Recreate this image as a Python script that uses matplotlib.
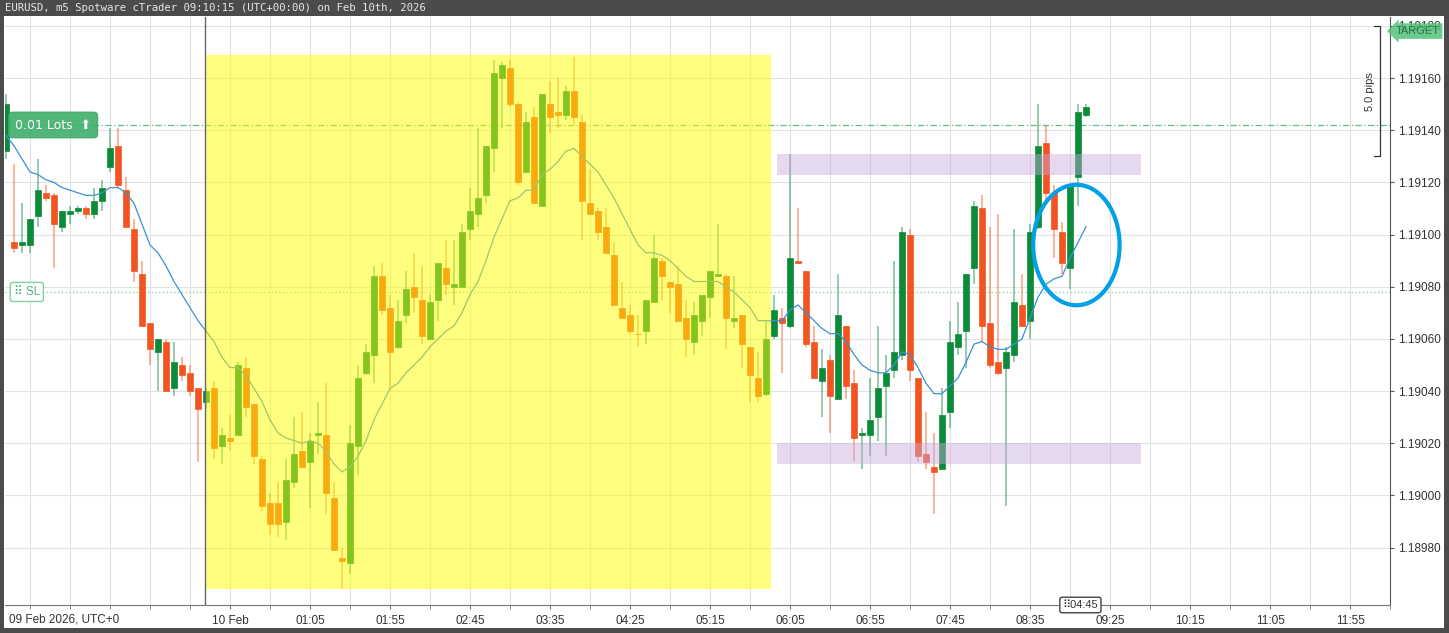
import numpy as np
import pandas as pd
import matplotlib
matplotlib.use("Agg")
import matplotlib.pyplot as plt
from matplotlib.patches import Rectangle, Ellipse
from matplotlib.ticker import FormatStrFormatter

# EURUSD m5 candles, 09 Feb 21:55 -> 10 Feb 09:10 (UTC)
bar_times = pd.date_range("2026-02-09 21:55", "2026-02-10 09:10", freq="5min")

opens = [
    1.19132, 1.19097, 1.19096, 1.19096, 1.19107, 1.19116, 1.19115, 1.19103, 1.19108, 1.19109,
    1.19110, 1.19108, 1.19113, 1.19126, 1.19134, 1.19117, 1.19102, 1.19085, 1.19066, 1.19055,
    1.19059, 1.19041, 1.19050, 1.19047, 1.19041, 1.19036, 1.19041, 1.19019, 1.19022, 1.19023,
    1.19049, 1.19035, 1.19014, 1.18997, 1.18997, 1.18990, 1.19005, 1.19017, 1.19013, 1.19023,
    1.19023, 1.18999, 1.18976, 1.18974, 1.19019, 1.19047, 1.19054, 1.19084, 1.19072, 1.19057,
    1.19069, 1.19080, 1.19075, 1.19060, 1.19075, 1.19087, 1.19080, 1.19080, 1.19102, 1.19108,
    1.19115, 1.19133, 1.19160, 1.19164, 1.19150, 1.19124, 1.19145, 1.19111, 1.19150, 1.19147,
    1.19146, 1.19155, 1.19143, 1.19112, 1.19109, 1.19103, 1.19092, 1.19072, 1.19069, 1.19062,
    1.19063, 1.19074, 1.19090, 1.19082, 1.19081, 1.19068, 1.19059, 1.19067, 1.19076, 1.19084,
    1.19084, 1.19067, 1.19069, 1.19057, 1.19045, 1.19039, 1.19061, 1.19068, 1.19065, 1.19090,
    1.19086, 1.19059, 1.19044, 1.19052, 1.19037, 1.19065, 1.19043, 1.19023, 1.19023, 1.19030,
    1.19042, 1.19048, 1.19054, 1.19100, 1.19045, 1.19016, 1.19011, 1.19010, 1.19032, 1.19057,
    1.19063, 1.19087, 1.19110, 1.19066, 1.19051, 1.19049, 1.19054, 1.19073, 1.19067, 1.19103,
    1.19135, 1.19116, 1.19101, 1.19087, 1.19122, 1.19146,
]
highs = [
    1.19154, 1.19127, 1.19112, 1.19106, 1.19129, 1.19119, 1.19116, 1.19109, 1.19111, 1.19111,
    1.19111, 1.19118, 1.19121, 1.19141, 1.19141, 1.19122, 1.19106, 1.19090, 1.19066, 1.19060,
    1.19060, 1.19059, 1.19053, 1.19050, 1.19041, 1.19041, 1.19044, 1.19026, 1.19031, 1.19051,
    1.19053, 1.19035, 1.19015, 1.19001, 1.19005, 1.19014, 1.19030, 1.19032, 1.19024, 1.19036,
    1.19043, 1.19005, 1.18980, 1.19027, 1.19050, 1.19058, 1.19088, 1.19089, 1.19077, 1.19075,
    1.19086, 1.19093, 1.19088, 1.19077, 1.19089, 1.19098, 1.19098, 1.19104, 1.19118, 1.19141,
    1.19134, 1.19167, 1.19166, 1.19167, 1.19151, 1.19147, 1.19149, 1.19154, 1.19159, 1.19160,
    1.19157, 1.19168, 1.19146, 1.19125, 1.19110, 1.19110, 1.19097, 1.19082, 1.19073, 1.19069,
    1.19075, 1.19100, 1.19091, 1.19082, 1.19088, 1.19075, 1.19074, 1.19077, 1.19086, 1.19104,
    1.19085, 1.19084, 1.19069, 1.19057, 1.19055, 1.19067, 1.19077, 1.19072, 1.19131, 1.19110,
    1.19086, 1.19065, 1.19056, 1.19054, 1.19085, 1.19065, 1.19048, 1.19026, 1.19045, 1.19065,
    1.19054, 1.19090, 1.19103, 1.19102, 1.19045, 1.19032, 1.19024, 1.19041, 1.19067, 1.19074,
    1.19085, 1.19113, 1.19115, 1.19103, 1.19108, 1.19057, 1.19102, 1.19085, 1.19104, 1.19150,
    1.19142, 1.19119, 1.19105, 1.19119, 1.19150, 1.19150,
]
lows = [
    1.19129, 1.19093, 1.19093, 1.19093, 1.19103, 1.19113, 1.19087, 1.19101, 1.19104, 1.19108,
    1.19106, 1.19106, 1.19109, 1.19124, 1.19118, 1.19103, 1.19082, 1.19065, 1.19050, 1.19040,
    1.19040, 1.19038, 1.19044, 1.19038, 1.19013, 1.19033, 1.19014, 1.19012, 1.19017, 1.19023,
    1.19030, 1.19012, 1.18994, 1.18985, 1.18984, 1.18983, 1.19003, 1.19010, 1.18995, 1.19016,
    1.18993, 1.18979, 1.18964, 1.18970, 1.19008, 1.19046, 1.19043, 1.19069, 1.19040, 1.19056,
    1.19066, 1.19070, 1.19058, 1.19060, 1.19067, 1.19077, 1.19073, 1.19080, 1.19098, 1.19103,
    1.19112, 1.19124, 1.19141, 1.19149, 1.19119, 1.19124, 1.19112, 1.19111, 1.19139, 1.19141,
    1.19144, 1.19142, 1.19098, 1.19108, 1.19098, 1.19093, 1.19073, 1.19068, 1.19062, 1.19057,
    1.19058, 1.19074, 1.19075, 1.19070, 1.19067, 1.19053, 1.19054, 1.19061, 1.19068, 1.19084,
    1.19056, 1.19064, 1.19049, 1.19036, 1.19036, 1.19038, 1.19060, 1.19047, 1.19064, 1.19089,
    1.19057, 1.19045, 1.19030, 1.19024, 1.19037, 1.19037, 1.19013, 1.19010, 1.19015, 1.19021,
    1.19015, 1.19045, 1.19052, 1.19044, 1.19013, 1.19010, 1.18993, 1.19010, 1.19026, 1.19054,
    1.19049, 1.19081, 1.19059, 1.19049, 1.19046, 1.18996, 1.19051, 1.19065, 1.19060, 1.19102,
    1.19112, 1.19091, 1.19085, 1.19079, 1.19111, 1.19145,
]
closes = [
    1.19150, 1.19095, 1.19097, 1.19106, 1.19117, 1.19114, 1.19104, 1.19109, 1.19109, 1.19110,
    1.19108, 1.19113, 1.19118, 1.19133, 1.19119, 1.19103, 1.19086, 1.19065, 1.19056, 1.19060,
    1.19040, 1.19051, 1.19046, 1.19040, 1.19033, 1.19040, 1.19018, 1.19023, 1.19021, 1.19050,
    1.19034, 1.19015, 1.18996, 1.18989, 1.18989, 1.19006, 1.19016, 1.19011, 1.19021, 1.19024,
    1.19001, 1.18979, 1.18975, 1.19020, 1.19045, 1.19055, 1.19084, 1.19071, 1.19055, 1.19067,
    1.19079, 1.19076, 1.19061, 1.19074, 1.19089, 1.19081, 1.19081, 1.19101, 1.19109, 1.19114,
    1.19134, 1.19162, 1.19165, 1.19150, 1.19120, 1.19143, 1.19112, 1.19154, 1.19145, 1.19146,
    1.19155, 1.19145, 1.19113, 1.19108, 1.19101, 1.19093, 1.19073, 1.19068, 1.19063, 1.19062,
    1.19075, 1.19091, 1.19084, 1.19080, 1.19067, 1.19060, 1.19069, 1.19077, 1.19086, 1.19085,
    1.19068, 1.19068, 1.19058, 1.19046, 1.19038, 1.19060, 1.19071, 1.19066, 1.19091, 1.19089,
    1.19058, 1.19045, 1.19049, 1.19038, 1.19069, 1.19042, 1.19022, 1.19024, 1.19029, 1.19041,
    1.19047, 1.19055, 1.19101, 1.19048, 1.19015, 1.19013, 1.19009, 1.19031, 1.19059, 1.19062,
    1.19085, 1.19111, 1.19065, 1.19050, 1.19047, 1.19055, 1.19074, 1.19065, 1.19101, 1.19134,
    1.19116, 1.19102, 1.19089, 1.19119, 1.19147, 1.19149,
]
moving_avg = [
    1.19138, 1.19134, 1.19129, 1.19124, 1.19123, 1.19121, 1.19120, 1.19118, 1.19117, 1.19116,
    1.19115, 1.19115, 1.19116, 1.19118, 1.19118, 1.19116, 1.19112, 1.19104, 1.19096, 1.19093,
    1.19088, 1.19082, 1.19077, 1.19072, 1.19067, 1.19063, 1.19059, 1.19053, 1.19049, 1.19049,
    1.19046, 1.19041, 1.19036, 1.19029, 1.19024, 1.19022, 1.19021, 1.19020, 1.19021, 1.19020,
    1.19017, 1.19012, 1.19009, 1.19011, 1.19015, 1.19021, 1.19029, 1.19035, 1.19041, 1.19043,
    1.19047, 1.19050, 1.19053, 1.19057, 1.19060, 1.19063, 1.19065, 1.19070, 1.19077, 1.19082,
    1.19090, 1.19099, 1.19106, 1.19113, 1.19114, 1.19117, 1.19117, 1.19123, 1.19125, 1.19128,
    1.19132, 1.19133, 1.19130, 1.19127, 1.19124, 1.19119, 1.19114, 1.19108, 1.19102, 1.19096,
    1.19093, 1.19093, 1.19092, 1.19090, 1.19087, 1.19084, 1.19082, 1.19082, 1.19082, 1.19082,
    1.19080, 1.19078, 1.19075, 1.19072, 1.19067, 1.19067, 1.19067, 1.19067, 1.19071, 1.19073,
    1.19070, 1.19067, 1.19064, 1.19062, 1.19062, 1.19059, 1.19054, 1.19050, 1.19048, 1.19047,
    1.19047, 1.19050, 1.19055, 1.19054, 1.19049, 1.19043, 1.19039, 1.19039, 1.19042, 1.19045,
    1.19051, 1.19058, 1.19059, 1.19057, 1.19056, 1.19056, 1.19058, 1.19060, 1.19068, 1.19076,
    1.19081, 1.19083, 1.19084, 1.19091, 1.19097, 1.19103,
]

price_ticks = [1.18980, 1.19000, 1.19020, 1.19040, 1.19060, 1.19080,
               1.19100, 1.19120, 1.19140, 1.19160, 1.19180]
time_labels = ["10 Feb", "01:05", "01:55", "02:45", "03:35", "04:25", "05:15",
               "06:05", "06:55", "07:45", "08:35", "09:25", "10:15", "11:05", "11:55"]

entry_price = 1.19142
sl_price = 1.19078
target_price = 1.19180
pips_low = 1.19130
yellow_zone = ("2026-02-09 23:59:30", "2026-02-10 05:53", 1.18964, 1.19169)
supply_zone = ("2026-02-10 05:57", "2026-02-10 09:44:30", 1.19123, 1.19131)
demand_zone = ("2026-02-10 05:57", "2026-02-10 09:44:30", 1.19012, 1.19020)

GREEN = "#0b8a3a"
RED = "#f25522"
W, H = 1449, 633

day0 = pd.Timestamp("2026-02-10")
step = pd.Timedelta("5min")


def bx(t):
    return (pd.Timestamp(t) - day0) / step


def main():
    fig = plt.figure(figsize=(W / 100, H / 100), dpi=100, facecolor="#4b4b4b")
    fig.patches.append(Rectangle((4 / W, 5 / H), 1440 / W, 612 / H,
                                 transform=fig.transFigure, facecolor="white",
                                 edgecolor="none", zorder=-1))
    fig.text(5 / W, 1 - 8 / H,
             "EURUSD, m5 Spotware cTrader 09:10:15 (UTC+00:00) on Feb 10th, 2026",
             family="DejaVu Sans Mono", size=7.7, color="#e8e8e8", va="center")

    ax = fig.add_axes([5 / W, 28 / H, 1385 / W, 588 / H])
    x = ((bar_times - day0) / step).to_numpy(dtype=float)
    o, h, l, c = (np.array(v) for v in (opens, highs, lows, closes))
    col = np.where(c > o, GREEN, RED)

    ax.vlines(x, l, h, colors=col, lw=1.1, alpha=0.55, zorder=2)
    ax.bar(x, c - o, bottom=o, width=0.64, color=col, edgecolor=col,
           linewidth=0.5, zorder=3)
    ax.plot(x, moving_avg, color="#3d8fd6", lw=0.9, zorder=4)

    ax.axhline(entry_price, color="#5cbf87", lw=0.9, ls=(0, (5, 2, 1, 2)), zorder=1)
    ax.axhline(sl_price, color="#7dcf9c", lw=0.9, ls=(0, (1, 2)), zorder=1)

    t0, t1, p0, p1 = yellow_zone
    ax.add_patch(Rectangle((bx(t0), p0), bx(t1) - bx(t0), p1 - p0,
                           facecolor="#ffff00", alpha=0.5, lw=0, zorder=5))
    for t0, t1, p0, p1 in (supply_zone, demand_zone):
        ax.add_patch(Rectangle((bx(t0), p0), bx(t1) - bx(t0), p1 - p0,
                               facecolor="#c9a9dd", alpha=0.45, lw=0, zorder=5))
    ax.axvline(bx(yellow_zone[0]), color="#666666", lw=1, zorder=6)

    ax.add_patch(Ellipse((bx("2026-02-10 09:04"), 1.19096), 10.8, 0.000462,
                         fill=False, ec="#00a0e6", lw=3, zorder=7))

    # trade labels
    ax.text(-19.1, entry_price, "0.01 Lots  \u2b06", color="white", size=9,
            family="DejaVu Sans", ha="center", va="center", zorder=8,
            bbox=dict(boxstyle="round,pad=0.5,rounding_size=0.3",
                      fc="#3fae6b", ec="#3fae6b", alpha=0.9))
    ax.text(-22.4, sl_price, "\u283f SL", color="#4cb877", size=8.5,
            ha="center", va="center", zorder=8,
            bbox=dict(boxstyle="round,pad=0.3,rounding_size=0.2",
                      fc="white", ec="#7fd1a0"))
    ax.text(148.7, 1.19178, "TARGET", color="#2f6e45", size=8, ha="left",
            va="center", clip_on=False, zorder=9,
            bbox=dict(boxstyle="larrow,pad=0.25", fc="#52c27a", ec="none", alpha=0.85))
    ax.plot([146.0, 146.75, 146.75, 146.0],
            [target_price, target_price, pips_low, pips_low],
            color="#333333", lw=0.9, clip_on=False, zorder=8)
    ax.text(145.5, 1.19155, "5.0 pips", rotation=90, ha="center", va="center",
            size=8, color="#333333", zorder=8)

    ax.set_xlim(-25.125, 148.0)
    ax.set_ylim(1.18958, 1.191834)

    ax.text(109.3, 1.18958, "\u283f04:45", ha="center", va="center", size=8,
            color="#333333", clip_on=False, zorder=10,
            bbox=dict(boxstyle="round,pad=0.25,rounding_size=0.2", fc="white", ec="#444444"))

    # axes
    for s in ("left", "top"):
        ax.spines[s].set_visible(False)
    ax.spines["right"].set_color("#555555")
    ax.spines["bottom"].set_color("#777777")

    major = pd.date_range("2026-02-10 00:15", periods=len(time_labels), freq="50min")
    minor = pd.date_range("2026-02-09 22:10", "2026-02-10 12:20", freq="25min")
    ax.set_xticks([bx(t) for t in major])
    ax.set_xticklabels(time_labels)
    ax.set_xticks([bx(t) for t in minor], minor=True)
    ax.set_yticks(price_ticks)
    ax.yaxis.set_major_formatter(FormatStrFormatter("%.5f"))
    ax.yaxis.tick_right()
    ax.tick_params(axis="x", which="both", length=3, color="#777777",
                   labelsize=8.5, labelcolor="#333333", pad=4)
    ax.tick_params(axis="y", length=3, color="#555555", labelsize=8.5,
                   labelcolor="#333333", pad=3)
    ax.grid(True, which="both", color="#e2e2e2", lw=0.8)
    ax.set_axisbelow(True)

    fig.text(9 / W, 1 - 619 / H, "09 Feb 2026, UTC+0", ha="left", va="center",
             size=8.5, color="#333333")

    fig.savefig("out.png", dpi=100, facecolor=fig.get_facecolor())


if __name__ == '__main__':
    plt.rcParams['font.family'] = ['Liberation Sans', 'DejaVu Sans']
    main()
